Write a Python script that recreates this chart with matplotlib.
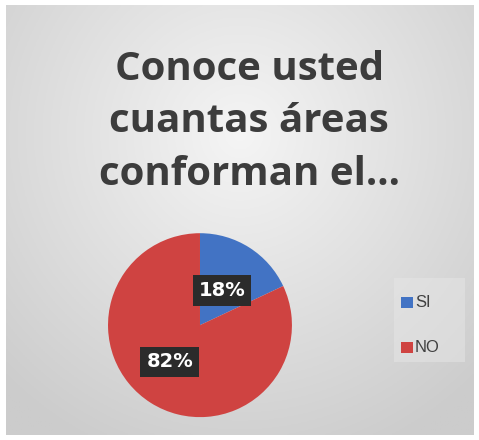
import numpy as np
import matplotlib.pyplot as plt
from matplotlib.patches import Rectangle

labels = ['SI', 'NO']
values = [18, 82]
colors = ['#4273c4', '#cf4341']
title = 'Conoce usted\ncuantas áreas\nconforman el...'

fig = plt.figure(figsize=(4.79, 4.40), dpi=100)
fig.patch.set_facecolor('white')

# background with soft gradient (lighter in the upper middle)
bg = fig.add_axes([0.012, 0.012, 0.976, 0.976])
yy, xx = np.mgrid[0:1:200j, 0:1:200j]
r = np.sqrt((xx - 0.5) ** 2 + ((yy - 0.3) * 0.9) ** 2)
g = np.clip(0.96 - 0.22 * r, 0.8, 1.0)
bg.imshow(np.dstack([g, g, g]), aspect='auto', extent=[0, 1, 0, 1])
bg.set_axis_off()

fig.text(0.52, 0.723, title, ha='center', va='center', fontsize=29,
         fontweight='bold', color='#3c3c3c', family='Open Sans', linespacing=1.45)

ax = fig.add_axes([0.2255, 0.052, 0.384, 0.418])
ax.pie(values, colors=colors, startangle=90, counterclock=False,
       wedgeprops=dict(linewidth=0))
ax.set_xlim(-1, 1)
ax.set_ylim(-1, 1)
ax.set_aspect('equal')

label_pos = [(0.24, 0.38), (-0.33, -0.4)]
for v, (x, y) in zip(values, label_pos):
    ax.text(x, y, f'{v}%', ha='center', va='center', fontsize=14, fontweight='bold',
            color='white', family='DejaVu Sans',
            bbox=dict(boxstyle='square,pad=0.3', facecolor='#2b2b2b', edgecolor='none'))

fig.patches.append(Rectangle((0.822, 0.178), 0.148, 0.19, transform=fig.transFigure,
                             facecolor='#e6e6e6', edgecolor='none', alpha=0.5))
for i, (lab, c) in enumerate(zip(labels, colors)):
    y = 0.313 - i * 0.103
    fig.patches.append(Rectangle((0.838, y - 0.013), 0.024, 0.026, transform=fig.transFigure,
                                 facecolor=c, edgecolor='none'))
    fig.text(0.866, y, lab, ha='left', va='center', fontsize=12, color='#404040',
             family='Liberation Sans')

fig.savefig('out.png', dpi=100)
